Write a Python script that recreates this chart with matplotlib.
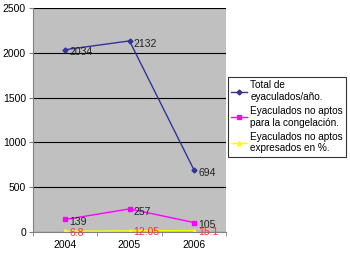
import matplotlib
matplotlib.use("Agg")
import matplotlib.pyplot as plt
from matplotlib.lines import Line2D

years = ["2004", "2005", "2006"]
total = [2034, 2132, 694]
no_aptos = [139, 257, 105]
pct = [6.8, 12.05, 15.1]
pct_labels = ["6.8", "12.05", "15.1"]
legend_labels = ["Total de\neyaculados/año.",
                 "Eyaculados no aptos\npara la congelación.",
                 "Eyaculados no aptos\nexpresados en %."]

plt.rcParams["font.family"] = ["Liberation Sans", "DejaVu Sans"]

fig = plt.figure(figsize=(3.5, 2.56), dpi=100)
fig.patch.set_facecolor("white")
ax = fig.add_axes([0.094, 0.094, 0.552, 0.875])
ax.set_facecolor("#c0c0c0")

x = list(range(len(years)))
ax.plot(x, total, color="#333399", marker="D", markersize=2.5, linewidth=1)
ax.plot(x, no_aptos, color="#ff00ff", marker="s", markersize=3, linewidth=1)
ax.plot(x, pct, color="#ffff00", marker="^", markersize=3, linewidth=1)

for xi, v in zip(x, total):
    ax.annotate(str(v), (xi, v), xytext=(3, -2), textcoords="offset points",
                fontsize=7.5, color="#222222", va="center")
for xi, v in zip(x, no_aptos):
    ax.annotate(str(v), (xi, v), xytext=(3, -2), textcoords="offset points",
                fontsize=7.5, color="#222222", va="center")
for xi, v, s in zip(x, pct, pct_labels):
    ax.annotate(s, (xi, v), xytext=(3, -1), textcoords="offset points",
                fontsize=7.5, color="#ff3333", va="center")

ax.set_xlim(-0.5, 2.5)
ax.set_ylim(0, 2500)
ax.set_yticks(range(0, 2501, 500))
ax.set_xticks(x)
ax.set_xticklabels(years)
ax.set_xticks([-0.5, 0.5, 1.5, 2.5], minor=True)
ax.tick_params(axis="x", which="major", length=0, labelsize=7.5, pad=6)
ax.tick_params(axis="x", which="minor", length=3, direction="out", color="#808080")
ax.tick_params(axis="y", length=3, labelsize=7.5, color="#808080", pad=2)
ax.yaxis.grid(True, color="black", linewidth=0.8)
ax.set_axisbelow(True)
for side in ["top", "right"]:
    ax.spines[side].set_visible(False)
ax.spines["left"].set_color("#808080")
ax.spines["bottom"].set_color("#808080")

handles = [
    Line2D([], [], color="#333399", marker="D", markersize=2.5, linewidth=1),
    Line2D([], [], color="#ff00ff", marker="s", markersize=3, linewidth=1),
    Line2D([], [], color="#ffff00", marker="^", markersize=3, linewidth=1),
]
leg = fig.legend(handles, legend_labels, loc="upper left",
                 bbox_to_anchor=(0.651, 0.70), fontsize=7.2, frameon=True,
                 fancybox=False, handlelength=1.6, handletextpad=0.3,
                 borderpad=0.35, labelspacing=0.4, borderaxespad=0)
leg.get_frame().set_edgecolor("black")
leg.get_frame().set_linewidth(0.8)

fig.savefig("out.png", dpi=100)
